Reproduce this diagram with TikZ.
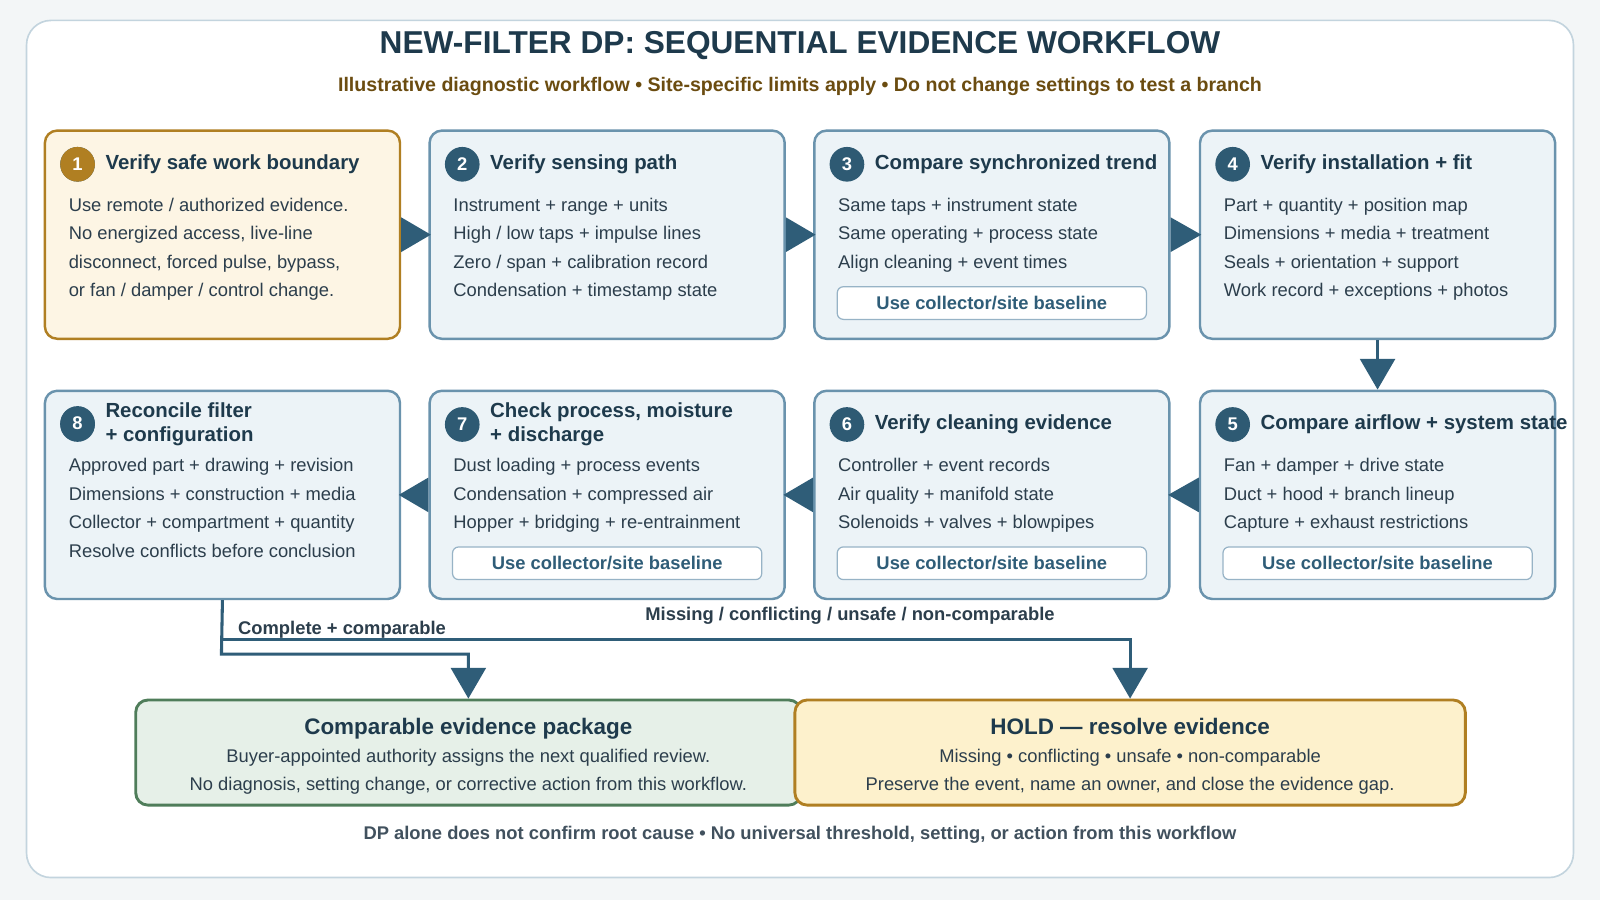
\documentclass[tikz,border=0pt]{standalone}
\usepackage{fontspec}
\setmainfont{Liberation Sans}
\usetikzlibrary{arrows.meta}
\definecolor{navy}{HTML}{1E3A4C}
\definecolor{bluebd}{HTML}{6A93AD}
\definecolor{bluefill}{HTML}{ECF3F7}
\definecolor{circ}{HTML}{2E5A73}
\definecolor{gold}{HTML}{B07F22}
\definecolor{creamfill}{HTML}{FDF5E4}
\definecolor{brown}{HTML}{6B4C10}
\definecolor{greenbd}{HTML}{4F7D5A}
\definecolor{greenfill}{HTML}{E6F0E8}
\definecolor{yelfill}{HTML}{FDF1CC}
\definecolor{arr}{HTML}{2F5D78}
\definecolor{txt}{HTML}{2C3E4C}
\definecolor{bg}{HTML}{F3F6F7}
\tikzset{
  card/.style={draw=bluebd, fill=bluefill, line width=1.2pt, rounded corners=6pt, minimum width=174pt, minimum height=102pt, inner sep=0},
  safe/.style={card, draw=gold, fill=creamfill},
  num/.style={circle, fill=circ, text=white, minimum size=17pt, inner sep=0, font=\fontsize{9}{10}\selectfont\bfseries},
  head/.style={anchor=west, text=navy, font=\fontsize{10}{12}\selectfont\bfseries, inner sep=0, align=left},
  body/.style={anchor=base west, text=txt, font=\fontsize{9}{11}\selectfont, inner sep=0},
  cbody/.style={anchor=base, text=txt, font=\fontsize{9}{11}\selectfont, inner sep=0},
  badge/.style={draw=bluebd!70, fill=white, line width=0.6pt, rounded corners=3pt, minimum width=151.5pt, minimum height=16pt, inner sep=0, text=arr, font=\fontsize{9}{11}\selectfont\bfseries},
  tri/.style={fill=arr},
  flow/.style={draw=arr, line width=1.5pt, -{Triangle[length=15pt,width=17pt]}},
  lab/.style={text=txt, font=\fontsize{9}{11}\selectfont\bfseries, inner sep=0},
}
\newcommand\mycard[6]{%
  \node[#4] (#1) at ({#2+174},{#3+102}) {};
  \node[num] (#1-n) at ({#2+32},{#3+33}) {#5};
  \node[head] (#1-h) at ({#2+59},{#3+33}) {#6};
}
\newcommand\mylines[4]{%
  \foreach \t [count=\i] in {#4} {\node[body] (#1-l\i) at ({#2+23},{#3+51+28*\i}) {\t};}
}
\begin{document}
\begin{tikzpicture}[x=0.5pt,y=-0.5pt]
\useasboundingbox (0,0) rectangle (1568,882);
\fill[bg] (0,0) rectangle (1568,882);
\node[draw=bluebd!40, fill=white, line width=0.8pt, rounded corners=12pt, minimum width=758pt, minimum height=420pt] (frame) at (784,440) {};
\node[text=navy, font=\fontsize{15.5}{18}\selectfont\bfseries] (title) at (784,45) {NEW-FILTER DP: SEQUENTIAL EVIDENCE WORKFLOW};
\node[text=brown, font=\fontsize{9.6}{12}\selectfont\bfseries] (sub) at (784,85) {Illustrative diagnostic workflow • Site-specific limits apply • Do not change settings to test a branch};

% row 1
\mycard{b1}{44}{128}{safe}{1}{Verify safe work boundary}
\node[num, fill=gold] at (b1-n) {1};
\mylines{b1}{44}{128}{{Use remote / authorized evidence.},{No energized access, live-line},{disconnect, forced pulse, bypass,},{or fan / damper / control change.}}
\mycard{b2}{421}{128}{card}{2}{Verify sensing path}
\mylines{b2}{421}{128}{{Instrument + range + units},{High / low taps + impulse lines},{Zero / span + calibration record},{Condensation + timestamp state}}
\mycard{b3}{798}{128}{card}{3}{Compare synchronized trend}
\mylines{b3}{798}{128}{{Same taps + instrument state},{Same operating + process state},{Align cleaning + event times}}
\node[badge] (b3-b) at (972,297) {Use collector/site baseline};
\mycard{b4}{1176}{128}{card}{4}{Verify installation + fit}
\mylines{b4}{1176}{128}{{Part + quantity + position map},{Dimensions + media + treatment},{Seals + orientation + support},{Work record + exceptions + photos}}

% row 2
\mycard{b8}{44}{383}{card}{8}{Reconcile filter\\+ configuration}
\node[num] at (76,415) {8};
\mylines{b8}{44}{383}{{Approved part + drawing + revision},{Dimensions + construction + media},{Collector + compartment + quantity},{Resolve conflicts before conclusion}}
\mycard{b7}{421}{383}{card}{7}{Check process, moisture\\+ discharge}
\mylines{b7}{421}{383}{{Dust loading + process events},{Condensation + compressed air},{Hopper + bridging + re-entrainment}}
\node[badge] (b7-b) at (595,552) {Use collector/site baseline};
\mycard{b6}{798}{383}{card}{6}{Verify cleaning evidence}
\mylines{b6}{798}{383}{{Controller + event records},{Air quality + manifold state},{Solenoids + valves + blowpipes}}
\node[badge] (b6-b) at (972,552) {Use collector/site baseline};
\mycard{b5}{1176}{383}{card}{5}{Compare airflow + system state}
\mylines{b5}{1176}{383}{{Fan + damper + drive state},{Duct + hood + branch lineup},{Capture + exhaust restrictions}}
\node[badge] (b5-b) at (1350,552) {Use collector/site baseline};

% arrows between cards
\fill[tri] (b1.east) ++(0,-17) -- ++(0,34) -- ++(29,-17) -- cycle;
\fill[tri] (b2.east) ++(0,-17) -- ++(0,34) -- ++(29,-17) -- cycle;
\fill[tri] (b3.east) ++(0,-17) -- ++(0,34) -- ++(30,-17) -- cycle;
\draw[flow] (b4.south) -- (b5.north);
\fill[tri] (b5.west) ++(0,-17) -- ++(0,34) -- ++(-30,-17) -- cycle;
\fill[tri] (b6.west) ++(0,-17) -- ++(0,34) -- ++(-29,-17) -- cycle;
\fill[tri] (b7.west) ++(0,-17) -- ++(0,34) -- ++(-29,-17) -- cycle;

% bottom boxes
\node[draw=greenbd, fill=greenfill, line width=1.4pt, rounded corners=6pt, minimum width=326pt, minimum height=51.5pt] (ok) at (459,737.5) {};
\node[text=navy, font=\fontsize{11}{13}\selectfont\bfseries, anchor=base] (ok-h) at (459,720) {Comparable evidence package};
\node[cbody] (ok-1) at (459,747) {Buyer-appointed authority assigns the next qualified review.};
\node[cbody] (ok-2) at (459,775) {No diagnosis, setting change, or corrective action from this workflow.};
\node[draw=gold, fill=yelfill, line width=1.4pt, rounded corners=6pt, minimum width=328.5pt, minimum height=51.5pt] (hold) at (1107.5,737.5) {};
\node[text=navy, font=\fontsize{11}{13}\selectfont\bfseries, anchor=base] (hold-h) at (1107.5,720) {HOLD — resolve evidence};
\node[cbody] (hold-1) at (1107.5,747) {Missing • conflicting • unsafe • non-comparable};
\node[cbody] (hold-2) at (1107.5,775) {Preserve the event, name an owner, and close the evidence gap.};

% outcome connectors
\coordinate (j1) at (217,641);
\coordinate (j2) at (217,627);
\draw[flow] (b8.south) -- (j1) -| (ok.north);
\draw[flow] (j2) -| (hold.north);
\node[lab, anchor=west] (l1) at (233,617) {Complete + comparable};
\node[lab] (l2) at (833,603) {Missing / conflicting / unsafe / non-comparable};

\node[text=txt!90, font=\fontsize{9}{11}\selectfont\bfseries] (foot) at (784,818) {DP alone does not confirm root cause • No universal threshold, setting, or action from this workflow};
\end{tikzpicture}
\end{document}
